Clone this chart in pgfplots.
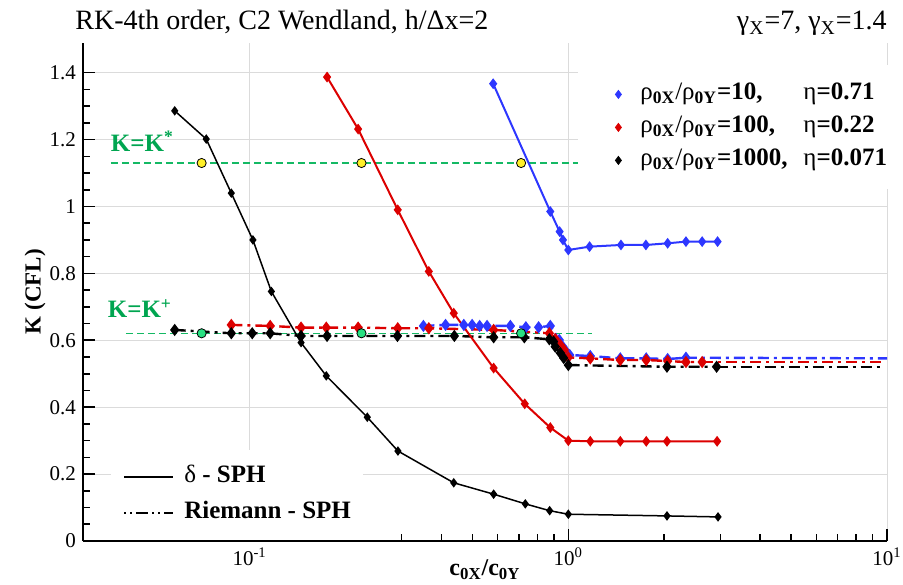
\documentclass[border=0pt]{standalone}
\usepackage{fontspec}
\setmainfont{Liberation Serif}
\usepackage{pgfplots}
\pgfplotsset{compat=1.18}

\definecolor{cblue}{RGB}{45,55,255}
\definecolor{cred}{RGB}{220,0,0}
\definecolor{kgreen}{RGB}{0,165,80}
\definecolor{lgreen}{RGB}{20,185,100}
\definecolor{cyell}{RGB}{255,240,40}
\definecolor{cgreenc}{RGB}{40,225,130}

\tikzset{dd/.style={dash pattern=on 5.5bp off 2.5bp on 1.5bp off 2.5bp}}

\begin{document}
\begin{tikzpicture}
\useasboundingbox (-41.5bp,-22bp) rectangle (410bp,270.5bp);
\begin{axis}[
  name=main,
  scale only axis, width=402bp, height=249.2bp,
  xmode=log, xmin=0.03, xmax=10, ymin=0, ymax=1.49,
  axis x line*=bottom, axis y line*=left,
  axis line style={line width=1bp, black},
  xtick={0.1,1,10},
  xticklabels={10\textsuperscript{-1},10\textsuperscript{0},10\textsuperscript{1}},
  minor xtick={0.04,0.05,0.06,0.07,0.08,0.09,0.2,0.3,0.4,0.5,0.6,0.7,0.8,0.9,2,3,4,5,6,7,8,9},
  ytick={0,0.2,0.4,0.6,0.8,1,1.2,1.4},
  yticklabels={0,0.2,0.4,0.6,0.8,1,1.2,1.4},
  minor y tick num=3,
  major tick length=6bp, minor tick length=3.5bp,
  tick style={black, line width=0.8bp},
  xmajorgrids, ymajorgrids,
  major grid style={draw=black!14, line width=0.5bp},
  tick label style={font=\fontsize{10.5bp}{12bp}\selectfont},
  xlabel={\textbf{c\textsubscript{0X}/c\textsubscript{0Y}}},
  ylabel={\textbf{K (CFL)}},
  every axis x label/.style={at={(axis description cs:0.5,-0.058)}, anchor=center, font=\fontsize{12bp}{14bp}\selectfont},
  every axis y label/.style={at={(axis description cs:-0.0597,0.5)}, rotate=90, anchor=center, font=\fontsize{11.5bp}{14bp}\selectfont},
  legend style={at={(axis description cs:0.6157,0.955)}, anchor=north west, draw=none, fill=white,
    inner xsep=17bp, inner ysep=8bp, row sep=3.5bp,
    nodes={inner sep=0pt, text height=9bp, text depth=4bp},
    font=\fontsize{12.5bp}{14bp}\selectfont},
  legend cell align=left,
]
% legend images (upper legend)
\addlegendimage{legend image code/.code={\path[draw=none,fill=none] (-3bp,-3bp) rectangle (11bp,3bp); \draw[mark=diamond*, mark size=2bp, cblue, only marks] plot coordinates {(0bp,0bp)};}}
\addlegendentry{\makebox[81.5bp][l]{ρ\textsubscript{\textbf{0X}}/ρ\textsubscript{\textbf{0Y}}\textbf{=10,}}η\textbf{=0.71}}
\addlegendimage{legend image code/.code={\path[draw=none,fill=none] (-3bp,-3bp) rectangle (11bp,3bp); \draw[mark=diamond*, mark size=2bp, cred, only marks] plot coordinates {(0bp,0bp)};}}
\addlegendentry{\makebox[81.5bp][l]{ρ\textsubscript{\textbf{0X}}/ρ\textsubscript{\textbf{0Y}}\textbf{=100,}}η\textbf{=0.22}}
\addlegendimage{legend image code/.code={\path[draw=none,fill=none] (-3bp,-3bp) rectangle (11bp,3bp); \draw[mark=diamond*, mark size=2bp, black, only marks] plot coordinates {(0bp,0bp)};}}
\addlegendentry{\makebox[81.5bp][l]{ρ\textsubscript{\textbf{0X}}/ρ\textsubscript{\textbf{0Y}}\textbf{=1000,}}η\textbf{=0.071}}

% green reference lines
\addplot[lgreen, line width=0.75bp, dash pattern=on 3.5bp off 2bp, forget plot] coordinates {(0.0367,1.13) (1.075,1.13)};
\addplot[lgreen, line width=0.75bp, dash pattern=on 3.5bp off 2bp, forget plot] coordinates {(0.0409,0.621) (1.19,0.621)};

% Riemann - SPH (dash-dot)
\addplot[cblue, line width=1.2bp, dd, mark=diamond*, mark size=2.1bp, mark options={solid, fill=cblue}, forget plot] coordinates {
(0.351,0.643) (0.412,0.646) (0.470,0.646) (0.499,0.646) (0.527,0.643) (0.556,0.643) (0.658,0.643) (0.736,0.639) (0.807,0.639) (0.878,0.643) (0.937,0.601) (0.961,0.581) (0.986,0.566) (1.01,0.556) (1.172,0.553) (1.456,0.546) (1.756,0.546) (2.05,0.544) (2.34,0.548)};
\addplot[cblue, line width=1.2bp, dd, forget plot] coordinates {(2.34,0.548) (10,0.546)};

\addplot[cred, line width=1.2bp, dd, mark=diamond*, mark size=2.1bp, mark options={solid, fill=cred}, forget plot] coordinates {
(0.0876,0.646) (0.116,0.643) (0.145,0.638) (0.174,0.638) (0.219,0.638) (0.2916,0.636) (0.365,0.636) (0.583,0.631) (0.872,0.621) (0.91,0.604) (0.944,0.586) (0.971,0.571) (1.0,0.549) (1.172,0.546) (1.456,0.541) (1.756,0.541) (2.05,0.538) (2.34,0.535) (2.63,0.535)};
\addplot[cred, line width=1.2bp, dd, forget plot] coordinates {(2.63,0.535) (9.6,0.535)};

\addplot[black, line width=1.2bp, dd, mark=diamond*, mark size=2.1bp, mark options={solid, fill=black}, forget plot] coordinates {
(0.0582,0.631) (0.0876,0.621) (0.1019,0.621) (0.116,0.621) (0.145,0.613) (0.175,0.613) (0.291,0.613) (0.439,0.613) (0.583,0.609) (0.728,0.609) (0.872,0.603) (0.899,0.596) (0.91,0.581) (0.944,0.562) (0.967,0.547) (1.0,0.526) (2.04,0.521) (2.92,0.521)};
\addplot[black, line width=1.2bp, dd, forget plot] coordinates {(2.92,0.521) (9.6,0.521)};

% delta - SPH (solid)
\addplot[cblue, line width=1bp, mark=diamond*, mark size=1.9bp, mark options={fill=cblue}, forget plot] coordinates {
(0.581,1.367) (0.878,0.985) (0.939,0.925) (0.962,0.900) (1.0,0.870) (1.166,0.880) (1.463,0.885) (1.752,0.885) (2.05,0.890) (2.34,0.895) (2.63,0.895) (2.94,0.895)};

\addplot[cred, line width=1bp, mark=diamond*, mark size=1.9bp, mark options={fill=cred}, forget plot] coordinates {
(0.175,1.387) (0.219,1.2315) (0.2916,0.990) (0.365,0.806) (0.437,0.681) (0.583,0.517) (0.730,0.410) (0.878,0.339) (1.0,0.300) (1.172,0.298) (1.456,0.298) (1.756,0.298) (2.04,0.298) (2.93,0.298)};

\addplot[black, line width=0.75bp, mark=diamond*, mark size=1.8bp, mark options={fill=black}, forget plot] coordinates {
(0.0582,1.286) (0.0731,1.2016) (0.0876,1.040) (0.1024,0.900) (0.117,0.746) (0.145,0.593) (0.174,0.4936) (0.234,0.370) (0.292,0.269) (0.437,0.174) (0.583,0.140) (0.733,0.111) (0.874,0.0906) (1.0,0.080) (2.04,0.075) (2.95,0.072)};

% circles
\addplot[only marks, mark=*, mark size=2.3bp, mark options={fill=cyell, draw=black, line width=0.4bp}, forget plot] coordinates {(0.0707,1.13) (0.2244,1.13) (0.711,1.13)};
\addplot[only marks, mark=*, mark size=2.3bp, mark options={fill=cgreenc, draw=black, line width=0.4bp}, forget plot] coordinates {(0.0707,0.621) (0.2244,0.621) (0.711,0.621)};

\node[anchor=base west, inner sep=0pt, text=kgreen, font=\bfseries\fontsize{12.5bp}{15bp}\selectfont] at (axis cs:0.0366,1.1645) {K=K\textsuperscript{*}};
\node[anchor=base west, inner sep=0pt, text=kgreen, font=\bfseries\fontsize{12.5bp}{15bp}\selectfont] at (axis cs:0.0358,0.667) {K=K\textsuperscript{+}};
\end{axis}

\node[anchor=base west, font=\fontsize{14bp}{16bp}\selectfont, inner sep=0pt] at ([xshift=-4bp,yshift=6.3bp]main.north west) {RK-4th order, C2 Wendland, h/Δx=2};
\node[anchor=base east, font=\fontsize{14bp}{16bp}\selectfont, inner sep=0pt] at ([yshift=6.3bp]main.north east) {γ\textsubscript{X}=7, γ\textsubscript{X}=1.4};

\begin{axis}[
  scale only axis, width=402bp, height=249.2bp,
  hide axis, xmin=0, xmax=1, ymin=0, ymax=1,
  legend style={at={(axis description cs:0.0348,0.183)}, anchor=north west, draw=none, fill=white,
    inner xsep=6bp, inner ysep=7bp, row sep=5bp,
    nodes={inner sep=0pt, text height=9bp, text depth=4bp},
    font=\fontsize{12.5bp}{14bp}\selectfont},
  legend cell align=left,
]
\addlegendimage{legend image code/.code={\draw[black, line width=0.9bp] (0bp,0bp) -- (24.5bp,0bp); \path[draw=none] (24.5bp,0bp) -- (30bp,0bp);}}
\addlegendentry{δ\textbf{ - SPH}}
\addlegendimage{legend image code/.code={\draw[black, line width=0.9bp, dash pattern=on 1bp off 2bp on 1bp off 2bp on 6bp off 2bp] (0bp,0bp) -- (24.5bp,0bp); \path[draw=none] (24.5bp,0bp) -- (30bp,0bp);}}
\addlegendentry{\textbf{Riemann - SPH}}
\end{axis}
\end{tikzpicture}
\end{document}
